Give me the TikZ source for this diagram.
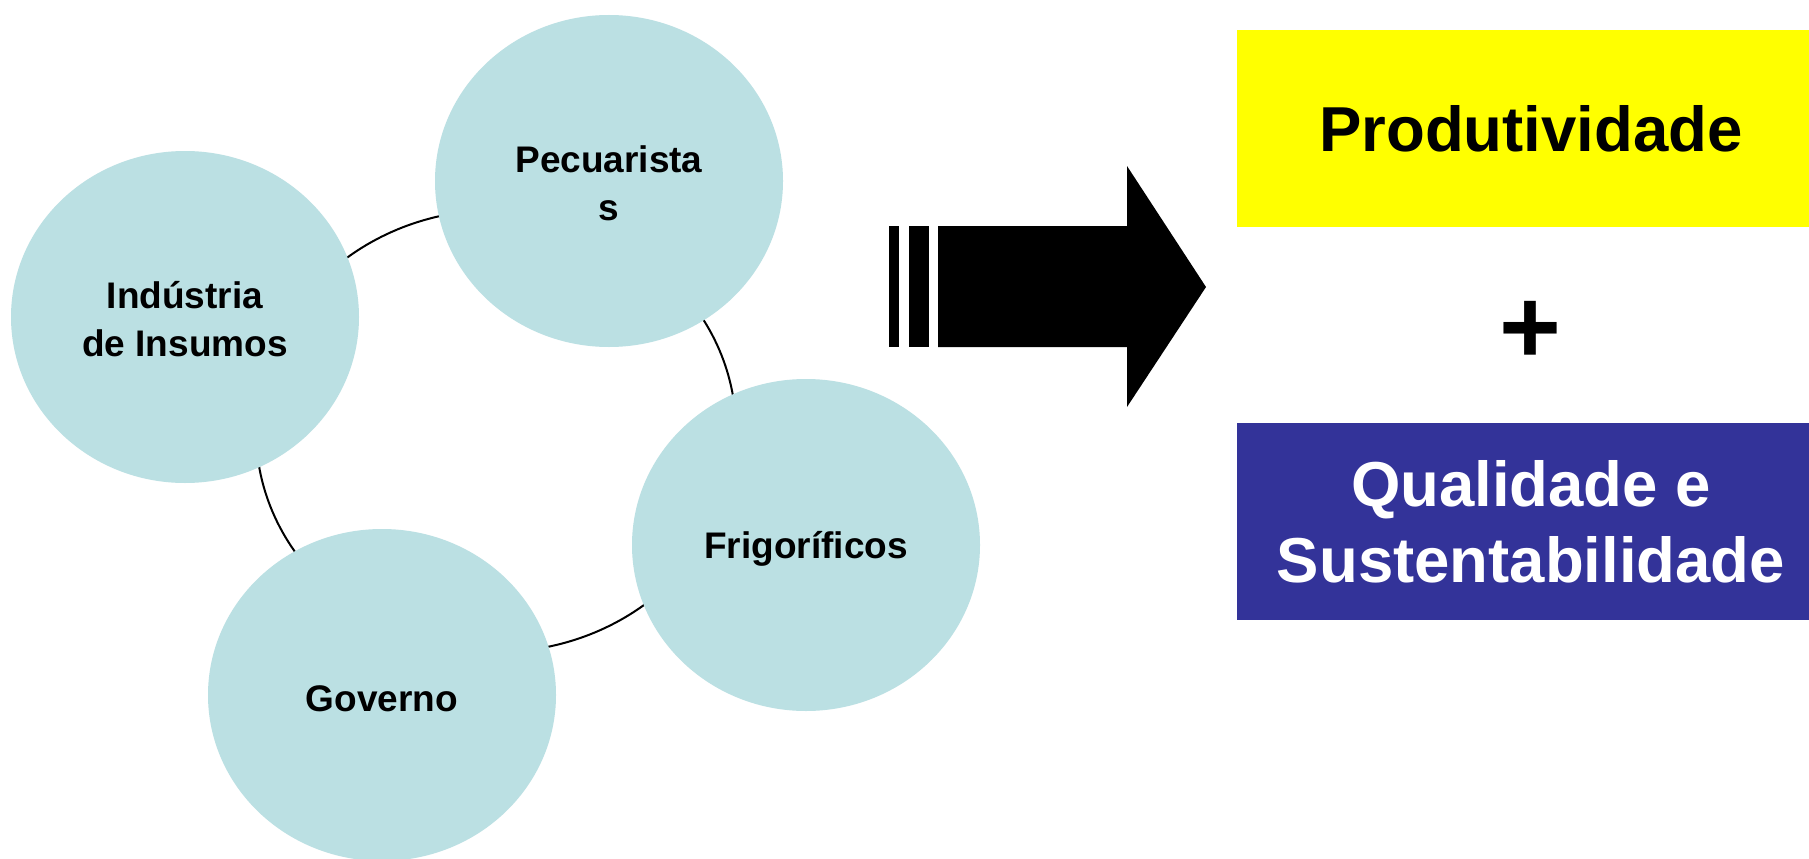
\documentclass[tikz,border=0pt]{standalone}
\usepackage{fontspec}
\setmainfont{Liberation Sans}
\usetikzlibrary{shapes.geometric}
\definecolor{nodeblue}{RGB}{187,224,227}
\definecolor{boxblue}{RGB}{51,51,153}
\definecolor{boxyellow}{RGB}{255,255,0}
\begin{document}
\begin{tikzpicture}[x=1pt,y=-1pt,
  actor/.style={ellipse, fill=nodeblue, minimum width=348pt, minimum height=332pt,
    inner sep=0pt},
  actortext/.style={align=center, inner sep=0pt, font=\fontsize{37}{44}\selectfont\bfseries},
  result/.style={rectangle, minimum width=588pt, minimum height=197pt, inner sep=0pt,
    align=center, font=\fontsize{63.5}{76}\selectfont\bfseries},
  ring/.style={draw=black, line width=2pt}]
\useasboundingbox (0,0) rectangle (1809,859);
\clip (0,0) rectangle (1809,859);
\fill[white] (0,0) rectangle (1809,859);
% ring behind the actors
\coordinate (ctr) at (496,431);
\draw[ring] (ctr) ellipse [x radius=240, y radius=221];
% actors
\node[actor, label={[actortext, yshift=-2pt]center:Pecuarista\\[4pt]s}] (pec) at (609,181) {};
\node[actor, label={[actortext, yshift=-2pt]center:Indústria\\[4pt]de Insumos}] (ind) at (185,317) {};
\node[actor, label={[actortext, yshift=-4pt]center:Frigoríficos}] (fri) at (806,545) {};
\node[actor, label={[actortext, yshift=-4pt]center:Governo}] (gov) at (382,695) {};
% big arrow
\fill (889,226) rectangle (899,347);
\fill (909,226) rectangle (929,347);
\fill (938,226) -- (1127,226) -- (1127,166) -- (1206,287) -- (1127,407) -- (1127,347) -- (938,347) -- cycle;
% results
\node[result, fill=boxyellow, text=black] (prod) at (1531,128.5) {Produtividade};
\node[anchor=base, inner sep=0pt, font=\fontsize{106}{120}\selectfont\bfseries] (plus) at (1530,363) {+};
\node[result, fill=boxblue, text=white] (qual) at (1531,521.5) {Qualidade e\\Sustentabilidade};
\end{tikzpicture}
\end{document}
